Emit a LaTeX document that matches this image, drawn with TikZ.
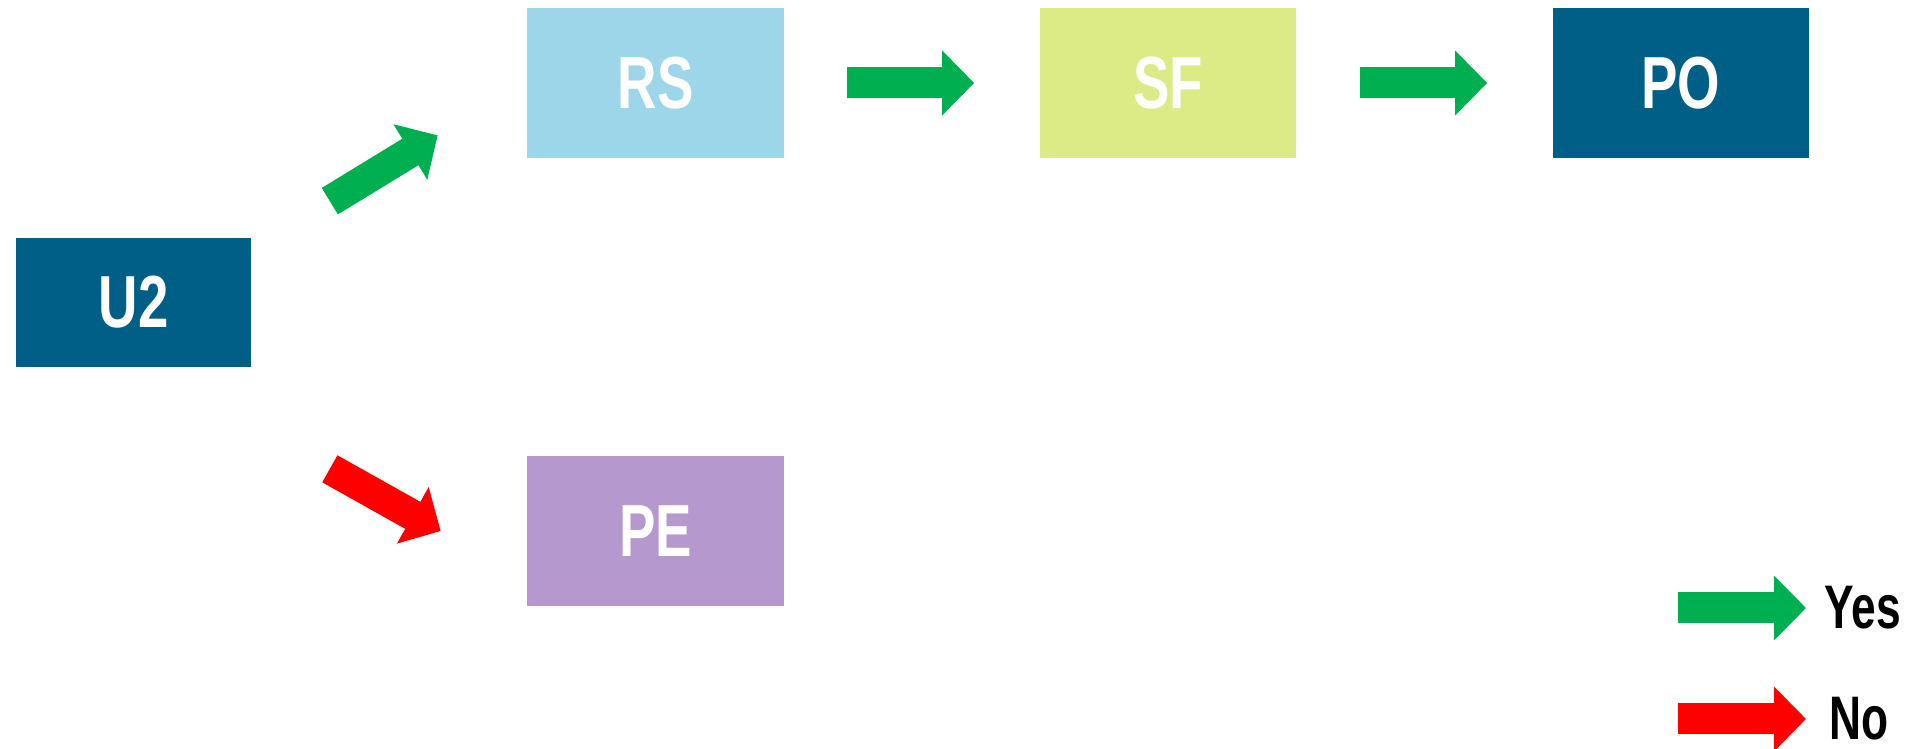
\documentclass[tikz,border=0pt]{standalone}
\usepackage{fontspec}
\setmainfont{Liberation Sans}
\usetikzlibrary{arrows.meta}

\definecolor{deepblue}{RGB}{0,95,135}
\definecolor{rsblue}{RGB}{157,214,233}
\definecolor{sfgreen}{RGB}{221,235,135}
\definecolor{pepurple}{RGB}{181,152,206}
\definecolor{yesgreen}{RGB}{0,176,80}
\definecolor{nored}{RGB}{255,0,0}

% condensed labels
\newcommand{\narrowtxt}[1]{\scalebox{0.74}[1]{#1}}

\tikzset{
  box/.style={minimum width=5.14cm, minimum height=3cm, inner sep=0pt,
    text=white, font=\fontsize{42}{48}\selectfont\bfseries},
  flow/.style={line width=0.62cm, -{Triangle[length=0.64cm, width=1.26cm]}},
  yesflow/.style={flow, yesgreen},
  noflow/.style={flow, nored},
  key/.style={anchor=west, inner sep=0pt, font=\fontsize{35}{40}\selectfont\bfseries},
}

\begin{document}
\begin{tikzpicture}[x=0.02cm, y=0.02cm]
                \useasboundingbox (0,0) rectangle (1914,749);
                % Boxes
                \node[box, fill=deepblue, minimum width=4.7cm, minimum height=2.58cm] (u2) at (133.5,446.5) {\narrowtxt{U2}};
                \node[box, fill=rsblue] (rs) at (655.5,666) {\narrowtxt{RS}};
                \node[box, fill=sfgreen] (sf) at (1168,666) {\narrowtxt{SF}};
                \node[box, fill=deepblue] (po) at (1681,666) {\narrowtxt{PO}};
                \node[box, fill=pepurple] (pe) at (655.5,218) {\narrowtxt{PE}};
                % Branches out of U2
                \coordinate (u2up) at ([shift={(78.5,36.5)}]u2.north east);
                \coordinate (rsin) at ([shift={(-89,23)}]rs.south west);
                \coordinate (u2down) at ([shift={(78.5,-101.5)}]u2.south east);
                \coordinate (pein) at ([shift={(-86,0)}]pe.west);
                \draw[yesflow] (u2up) -- (rsin);
                \draw[noflow] (u2down) -- (pein);
                % Top row
                \foreach \a/\b in {rs/sf, sf/po}
                    \draw[yesflow, shorten <=1.26cm, shorten >=1.3cm] (\a) -- (\b);
                % Legend
                \node[key] (yes) at (1824,141) {\scalebox{0.72}[1]{Yes}};
                \node[key] (no) at (1829,30) {\scalebox{0.72}[1]{No}};
                \coordinate (yeskey) at (1678,141);
                \coordinate (nokey) at (1678,30);
                \draw[yesflow, shorten >=0.36cm] (yeskey) -- (yes.west);
                \draw[noflow, shorten >=0.46cm] (nokey) -- (no.west);
\end{tikzpicture}
\end{document}
